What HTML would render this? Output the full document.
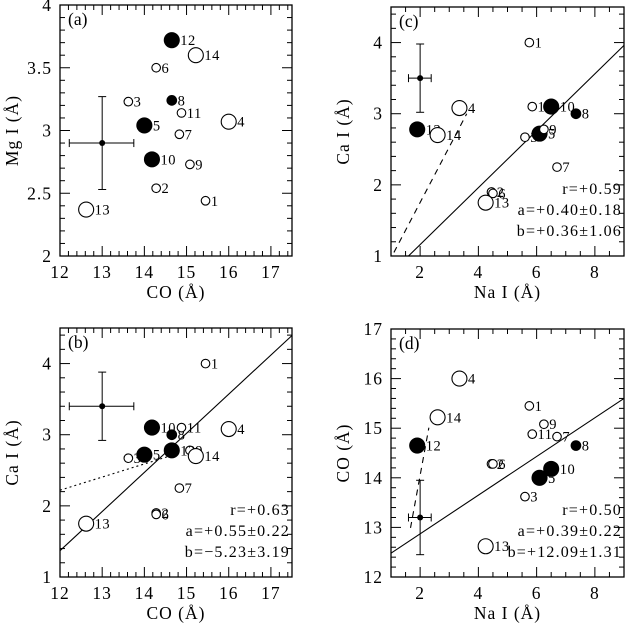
<!DOCTYPE html>
<html><head><meta charset="utf-8"><style>
html,body{margin:0;padding:0;background:#fff;}
svg{display:block;font-family:"Liberation Serif",serif;}
</style></head><body>
<svg id="chart" width="625" height="632" viewBox="0 0 625 632" xmlns="http://www.w3.org/2000/svg"></svg>
<script>
// Star data (ids 1..14)
const ids   = [1,2,3,4,5,6,7,8,9,10,11,12,13,14];
const coVals  = [15.45,14.28,13.62,16.0,14.0,14.28,14.83,14.65,15.08,14.18,14.88,14.65,12.62,15.22];
const mgVals  = [2.44,2.54,3.23,3.07,3.04,3.5,2.97,3.24,2.73,2.77,3.14,3.72,2.37,3.6];
const caVals  = [4.0,1.9,2.67,3.08,2.72,1.88,2.25,3.0,2.78,3.1,3.1,2.78,1.75,2.7];
const naVals  = [5.75,4.45,5.6,3.35,6.1,4.5,6.7,7.35,6.25,6.5,5.85,1.9,4.25,2.6];
const filled  = [0,0,0,0,1,0,0,1,0,1,0,1,0,0];
const large   = [0,0,0,1,1,0,0,0,0,1,0,1,1,1];
// Fit annotations
const fitA = ["r=+0.63","a=+0.55±0.22","b=\u22125.23±3.19"];
const fitC = ["r=+0.59","a=+0.40±0.18","b=+0.36±1.06"];
const fitD = ["r=+0.50","a=+0.39±0.22","b=+12.09±1.31"];

const NS="http://www.w3.org/2000/svg";
const svg=document.getElementById('chart');
function mk(tag,attrs,parent){const e=document.createElementNS(NS,tag);for(const k in attrs)e.setAttribute(k,attrs[k]);(parent||svg).appendChild(e);return e;}

function panel(cfg){
  const g=mk('g',{});
  
  
  const {x0,x1,y0,y1,L,R,T,B}=cfg;
  const sx=v=>L+(v-x0)/(x1-x0)*(R-L);
  const sy=v=>B-(v-y0)/(y1-y0)*(B-T);
  const eps=1e-6;
  for(let v=x0;v<=x1+eps;v+=cfg.xmin){
    const maj=Math.abs(v/cfg.xmaj-Math.round(v/cfg.xmaj))<1e-4;
    const len=maj?10:5, X=sx(v);
    mk('line',{x1:X,y1:B,x2:X,y2:B-len,stroke:'#000','stroke-width':1},g);
    mk('line',{x1:X,y1:T,x2:X,y2:T+len,stroke:'#000','stroke-width':1},g);
    if(maj && v>=cfg.xlab0-eps){const t=mk('text',{x:X,y:B+22,'text-anchor':'middle','font-size':17.5,'letter-spacing':1},g);t.textContent=+v.toFixed(2);
      
      }
  }
  for(let v=y0;v<=y1+eps;v+=cfg.ymin){
    const maj=Math.abs(v/cfg.ymaj-Math.round(v/cfg.ymaj))<1e-4;
    const len=maj?10:5, Y=sy(v);
    mk('line',{x1:L,y1:Y,x2:L+len,y2:Y,stroke:'#000','stroke-width':1},g);
    mk('line',{x1:R,y1:Y,x2:R-len,y2:Y,stroke:'#000','stroke-width':1},g);
    if(maj){const t=mk('text',{x:L-8,y:Y+6,'text-anchor':'end','font-size':17.5,'letter-spacing':1},g);t.textContent=+v.toFixed(2);
      
      }
  }
  const frame=mk('rect',{x:L,y:T,width:R-L,height:B-T,fill:'none',stroke:'#000','stroke-width':1.3},g);
  
  
  const xt=mk('text',{x:(L+R)/2,y:B+42,'text-anchor':'middle','font-size':17.5,'letter-spacing':1},g);xt.textContent=cfg.xlabel;
  
  
  const yt=mk('text',{x:0,y:0,'text-anchor':'middle','font-size':17.5,'letter-spacing':1,transform:`translate(${L-42},${(T+B)/2}) rotate(-90)`},g);yt.textContent=cfg.ylabel;
  
  
  const pl=mk('text',{x:L+8,y:T+20,'font-size':17.5},g);pl.textContent=cfg.tag;
  
  
  (cfg.lines||[]).forEach(ln=>{
    const l=mk('line',{x1:sx(ln[0]),y1:sy(ln[1]),x2:sx(ln[2]),y2:sy(ln[3]),stroke:'#000','stroke-width':1.1,'stroke-dasharray':ln[4]||'none'},g);
    
    
  });
  const e=cfg.err;
  const eg=mk('g',{},g);
  
  
  mk('line',{x1:sx(e[2]),y1:sy(e[1]),x2:sx(e[3]),y2:sy(e[1]),stroke:'#000'},eg);
  mk('line',{x1:sx(e[0]),y1:sy(e[4]),x2:sx(e[0]),y2:sy(e[5]),stroke:'#000'},eg);
  mk('line',{x1:sx(e[2]),y1:sy(e[1])-4,x2:sx(e[2]),y2:sy(e[1])+4,stroke:'#000'},eg);
  mk('line',{x1:sx(e[3]),y1:sy(e[1])-4,x2:sx(e[3]),y2:sy(e[1])+4,stroke:'#000'},eg);
  mk('line',{x1:sx(e[0])-4,y1:sy(e[4]),x2:sx(e[0])+4,y2:sy(e[4]),stroke:'#000'},eg);
  mk('line',{x1:sx(e[0])-4,y1:sy(e[5]),x2:sx(e[0])+4,y2:sy(e[5]),stroke:'#000'},eg);
  mk('circle',{cx:sx(e[0]),cy:sy(e[1]),r:3,fill:'#000'},eg);
  ids.forEach((id,i)=>{
    const X=sx(cfg.xs[i]),Y=sy(cfg.ys[i]);
    const r=large[i]?7.5:(filled[i]?4.8:4.3);
    const c=mk('circle',{cx:X,cy:Y,r:r,fill:filled[i]?'#000':'#fff',stroke:'#000','stroke-width':1.1},g);
    
    
    const t=mk('text',{x:X+r+1,y:Y+5,'font-size':14.5,'letter-spacing':0.5},g);t.textContent=id;
    
    
  });
  (cfg.fit||[]).forEach((s,k)=>{
    const t=mk('text',{x:R-2,y:B-62+k*21,'text-anchor':'end','font-size':16,'letter-spacing':1.2},g);t.textContent=s;
    
    
  });
}

panel({name:'panel-a',tag:'(a)',x0:12,x1:17.5,y0:2,y1:4,L:60,R:292,T:5,B:256,xmaj:1,xmin:0.2,ymaj:0.5,ymin:0.1,xlab0:12,
  xlabel:'CO (Å)',ylabel:'Mg I (Å)',xs:coVals,ys:mgVals,err:[13,2.9,12.22,13.75,2.53,3.27]});
panel({name:'panel-c',tag:'(c)',x0:1,x1:9,y0:1,y1:4.5,L:391,R:624,T:7,B:256,xmaj:2,xmin:0.5,ymaj:1,ymin:0.2,xlab0:2,
  xlabel:'Na I (Å)',ylabel:'Ca I (Å)',xs:naVals,ys:caVals,err:[2.0,3.5,1.6,2.38,3.02,3.98],
  lines:[[1.6,1.0,9,3.96],[1.1,1.05,3.6,3.0,'6,5']],fit:fitC});
panel({name:'panel-b',tag:'(b)',x0:12,x1:17.5,y0:1,y1:4.5,L:60,R:292,T:328,B:577,xmaj:1,xmin:0.2,ymaj:1,ymin:0.2,xlab0:12,
  xlabel:'CO (Å)',ylabel:'Ca I (Å)',xs:coVals,ys:caVals,err:[13,3.4,12.22,13.75,2.92,3.88],
  lines:[[12,1.37,17.5,4.395],[12,2.22,14.6,2.7,'2,3']],fit:fitA});
panel({name:'panel-d',tag:'(d)',x0:1,x1:9,y0:12,y1:17,L:391,R:624,T:329,B:577,xmaj:2,xmin:0.5,ymaj:1,ymin:0.2,xlab0:2,
  xlabel:'Na I (Å)',ylabel:'CO (Å)',xs:naVals,ys:coVals,err:[2.0,13.2,1.6,2.38,12.45,13.95],
  lines:[[1,12.48,9,15.6],[1.67,12.99,2.3,15.01,'6,5']],fit:fitD});
</script>
</body></html>
